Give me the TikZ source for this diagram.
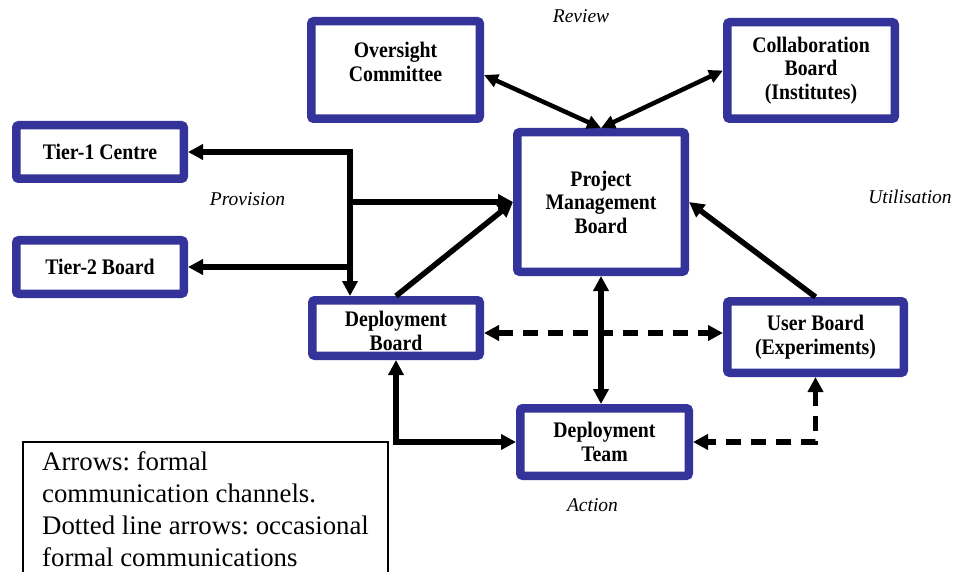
\documentclass[tikz,border=0pt]{standalone}
\usepackage{fontspec}
\setmainfont{Liberation Serif}
\newfontfamily\boxfont[FakeStretch=0.89]{Liberation Serif}
\usetikzlibrary{arrows.meta,calc}
\definecolor{boxblue}{RGB}{51,51,153}
\begin{document}
\frenchspacing
\begin{tikzpicture}[x=1pt,y=-1pt,
  boxtext/.style={align=center, inner sep=0pt, font=\boxfont\bfseries\fontsize{22.2}{23.5}\selectfont},
  box/.style={draw=boxblue, line width=8.5pt, rounded corners=2.5pt, fill=white,
    inner sep=0pt, boxtext},
  lab/.style={font=\itshape\fontsize{19.5}{23}\selectfont, anchor=base, inner sep=0pt},
  conn/.style={line width=5.5pt, >={Triangle[length=15pt,width=15pt]}},
  thin conn/.style={line width=4.5pt, >={Triangle[length=14pt,width=13pt]}},
  dashes/.style={dash pattern=on 15pt off 10pt},
  legendline/.style={line width=1.2pt}
]
\useasboundingbox (0,0) rectangle (953,572);

% boxes
\node[box, minimum width=168.5pt, minimum height=97.5pt,
  label={[boxtext, name=ovtext, yshift=8pt]center:Oversight\\Committee}] (ov) at (395.5,70) {};
\node[box, minimum width=167.5pt, minimum height=96.5pt] (cb) at (811,70.5) {Collaboration\\Board\\(Institutes)};
\node[box, minimum width=167.5pt, minimum height=139.5pt] (pm) at (601,202) {Project\\Management\\Board};
\node[box, minimum width=167.5pt, minimum height=53.5pt] (t1) at (100,152) {Tier-1 Centre};
\node[box, minimum width=167.5pt, minimum height=53.5pt] (t2) at (100,267) {Tier-2 Board};
\node[box, minimum width=167.5pt, minimum height=55.5pt,
  label={[boxtext, name=dbtext, yshift=-3pt]center:Deployment\\Board}] (db) at (396,328) {};
\node[box, minimum width=176.5pt, minimum height=71.5pt] (ub) at (815.5,337) {User Board\\(Experiments)};
\node[box, minimum width=168.5pt, minimum height=67.5pt] (dt) at (604.5,442) {Deployment\\Team};

% labels
\node[lab] (review) at (581,23) {Review};
\node[lab] (provision) at (247.5,206) {Provision};
\node[lab] (utilisation) at (910,204) {Utilisation};
\node[lab] (action) at (592.5,511) {Action};

% review connectors
\coordinate (ove) at ($(ov.east)+(0,5)$);
\draw[thin conn,<->] (ove) -- (pm.north);
\draw[thin conn,<->] (cb.west) -- (pm.north);

% provision bus
\coordinate (bus) at ($(db.north)+(-46,0)$);
\draw[conn,<->] (t1.east) -| (bus);
\draw[conn,<-] (t2.east) -- (t2.east -| bus);
\draw[conn,->] (bus |- pm.west) -- (pm.west);
\draw[conn,->] (db.north) -- (pm.west);

% utilisation
\draw[conn,->] (ub.north) -- (pm.east);

% action
\draw[conn,<->] (pm.south) -- (pm.south |- dt.north);
\draw[conn,<->] (db.south) |- (dt.west);

% occasional (dashed)
\coordinate (dbe) at ($(db.east)+(0,5)$);
\draw[conn,dashes,<->] (dbe) -- (dbe -| ub.west);
\draw[conn,dashes,<->] (ub.south) |- (dt.east);

% legend
\node[anchor=north west, inner xsep=19pt, inner ysep=9pt, align=left,
  font=\fontsize{26.8}{32}\selectfont] (legend) at (23,442)
  {Arrows: formal\\communication channels.\\Dotted line arrows: occasional\\formal communications};
\draw[legendline] ($(legend.north west)+(0,140)$) -- (legend.north west) -- ++(365,0) -- ++(0,140);
\end{tikzpicture}
\end{document}
